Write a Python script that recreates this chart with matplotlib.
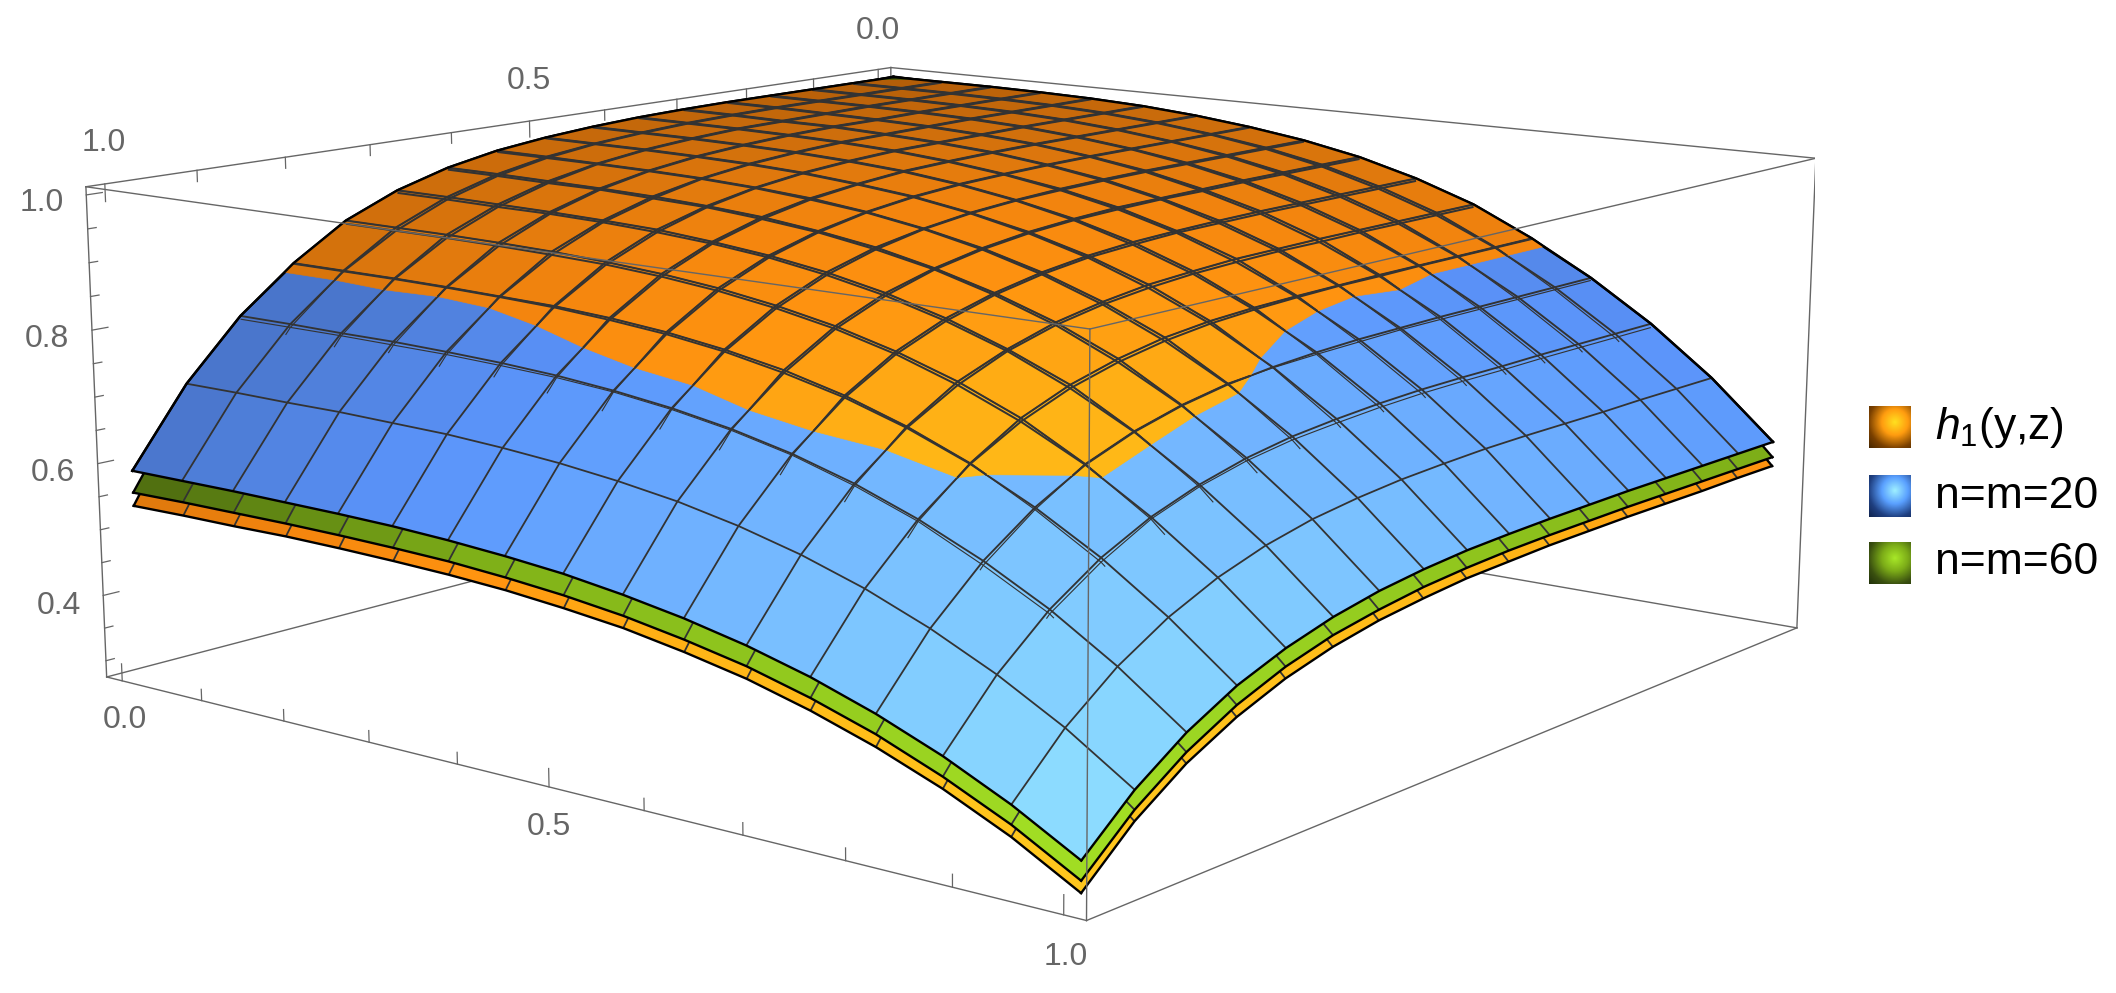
import numpy as np
import matplotlib
matplotlib.use("Agg")
import matplotlib.pyplot as plt
from matplotlib.colors import LinearSegmentedColormap
from mpl_toolkits.mplot3d.art3d import Poly3DCollection, Line3DCollection

plt.rcParams['font.family'] = ['Liberation Sans', 'DejaVu Sans']
plt.rcParams['mathtext.fontset'] = 'custom'
plt.rcParams['mathtext.it'] = 'Liberation Sans:italic'
plt.rcParams['mathtext.rm'] = 'Liberation Sans'

# heights, in thousandths, on the 17 x 17 mesh nodes
# rows: first axis 0 -> 1, columns: second axis 0 -> 1
mesh_nodes = np.linspace(0, 1, 17)

blue_h = np.array([
    [1000, 1000, 1000, 1000, 1000, 999, 997, 993, 987, 977, 961, 937, 902, 854, 789, 702, 588],
    [1000, 1000, 1000, 1000, 1000, 999, 997, 993, 987, 977, 961, 937, 902, 854, 789, 702, 588],
    [1000, 1000, 1000, 1000, 999, 998, 997, 993, 987, 977, 960, 936, 902, 854, 788, 701, 588],
    [999, 999, 999, 999, 998, 998, 996, 992, 986, 976, 960, 936, 901, 853, 788, 701, 587],
    [997, 997, 997, 997, 996, 995, 994, 990, 984, 974, 957, 934, 899, 851, 786, 699, 586],
    [993, 993, 993, 993, 992, 991, 990, 986, 980, 970, 954, 930, 896, 848, 783, 697, 584],
    [986, 986, 986, 986, 986, 985, 983, 980, 973, 963, 947, 924, 890, 842, 778, 692, 580],
    [976, 976, 976, 976, 976, 975, 973, 970, 964, 954, 938, 915, 881, 834, 770, 685, 574],
    [962, 962, 962, 962, 962, 961, 959, 956, 950, 940, 924, 901, 868, 822, 759, 675, 566],
    [943, 943, 943, 943, 942, 942, 940, 937, 931, 921, 906, 883, 851, 805, 744, 662, 554],
    [917, 917, 917, 917, 917, 916, 915, 911, 906, 896, 881, 859, 828, 784, 724, 644, 539],
    [885, 885, 885, 885, 884, 884, 882, 879, 873, 864, 850, 829, 798, 756, 698, 621, 520],
    [844, 844, 844, 844, 843, 843, 841, 838, 833, 824, 810, 790, 761, 721, 665, 592, 496],
    [793, 793, 793, 793, 793, 792, 791, 788, 783, 775, 762, 743, 716, 677, 625, 556, 466],
    [732, 732, 732, 732, 731, 731, 730, 727, 722, 715, 703, 685, 660, 625, 577, 513, 430],
    [659, 659, 659, 658, 658, 658, 657, 654, 650, 643, 633, 617, 594, 562, 519, 462, 387],
    [572, 572, 572, 572, 572, 571, 570, 568, 565, 559, 550, 536, 516, 489, 451, 401, 336],
]) / 1000

# h1 and n=m=60 sit very close to n=m=20, so they are kept as differences from it
orange_gap = np.array([
    [1, 1, 1, 1, 1, 1, 1, 1, 1, 2, 3, 4, 5, 1, -5, -27, -53],
    [1, 1, 1, 1, 1, 1, 1, 1, 1, 2, 3, 4, 5, 1, -5, -27, -52],
    [1, 1, 1, 1, 1, 1, 1, 1, 1, 1, 3, 4, 5, 1, -4, -26, -52],
    [1, 1, 1, 1, 1, 1, 1, 1, 1, 1, 2, 3, 5, 1, -5, -26, -50],
    [1, 1, 1, 1, 1, 1, 1, 1, 1, 1, 3, 3, 5, 1, -4, -25, -50],
    [1, 1, 1, 1, 1, 1, 1, 1, 1, 1, 2, 4, 4, 2, -4, -26, -50],
    [1, 1, 1, 1, 1, 1, 1, 1, 1, 2, 3, 3, 4, 3, -3, -25, -49],
    [1, 1, 1, 1, 1, 1, 1, 1, 1, 1, 2, 3, 4, 3, -2, -25, -48],
    [2, 2, 2, 2, 2, 2, 2, 1, 1, 1, 3, 4, 4, 3, -2, -24, -48],
    [3, 3, 3, 3, 3, 2, 3, 2, 2, 2, 2, 4, 4, 4, -2, -24, -46],
    [4, 4, 4, 4, 4, 4, 3, 4, 3, 3, 3, 4, 4, 3, -2, -24, -46],
    [4, 4, 4, 4, 5, 4, 5, 4, 5, 4, 4, 3, 5, 2, -3, -24, -45],
    [1, 1, 1, 1, 2, 1, 2, 3, 4, 5, 5, 5, 5, 1, -3, -23, -45],
    [-4, -4, -4, -4, -4, -3, -4, -3, -1, 1, 1, 1, 1, -3, -6, -22, -44],
    [-6, -6, -6, -6, -6, -6, -6, -6, -6, -5, -4, -3, -3, -6, -6, -22, -43],
    [-21, -21, -21, -20, -21, -21, -22, -21, -21, -21, -22, -22, -22, -22, -22, -22, -42],
    [-38, -38, -39, -39, -39, -39, -39, -40, -40, -41, -41, -41, -41, -42, -41, -41, -42],
]) / 1000

green_gap = np.array([
    [2, -1, -1, -1, -1, -1, -1, 0, 0, -1, -2, -2, -2, 0, -3, -17, -33],
    [-1, -1, -1, -1, -1, -1, -1, 0, 0, -1, -2, -2, -2, 0, -3, -17, -32],
    [-1, -1, -1, -1, 0, 0, -1, 0, -1, -1, -1, -2, -3, -1, -2, -16, -32],
    [-1, -1, -1, -1, -1, -1, -1, -1, -1, -1, -1, -2, -3, -1, -3, -16, -31],
    [-1, -1, -1, -1, -1, -1, -1, -1, -1, -1, -2, -2, -3, -1, -2, -16, -31],
    [-1, -1, -1, -1, -1, -1, -1, -1, -1, -1, -1, -2, -2, -1, -2, -16, -31],
    [-1, -1, -1, -1, -1, -1, -1, -1, -1, -1, -2, -2, -2, -2, -2, -16, -30],
    [-1, -1, -1, -1, -1, -1, -1, -1, -1, -1, -1, -2, -2, -2, -1, -16, -30],
    [-1, -1, -1, -1, -1, -1, -1, -1, -1, -1, -2, -2, -2, -2, -1, -15, -30],
    [-2, -2, -2, -2, -2, -1, -2, -1, -1, -1, -1, -2, -2, -2, -1, -15, -29],
    [-2, -2, -2, -2, -2, -2, -2, -2, -2, -2, -2, -2, -2, -2, -1, -15, -29],
    [-2, -2, -2, -2, -2, -2, -2, -2, -2, -2, -2, -2, -2, -1, -2, -15, -28],
    [-1, -1, -1, -1, 0, -1, -1, -1, -2, -2, -2, -2, -2, -1, -2, -14, -28],
    [-2, -2, -2, -2, -3, -2, -2, -2, -1, -1, -1, -1, -1, -1, -3, -14, -27],
    [-4, -4, -4, -4, -3, -4, -4, -4, -3, -3, -2, -2, -2, -4, -4, -14, -27],
    [-13, -13, -13, -13, -13, -13, -14, -13, -13, -13, -14, -14, -13, -13, -13, -14, -26],
    [-24, -24, -24, -24, -24, -24, -24, -24, -25, -25, -26, -25, -25, -26, -26, -26, -26],
]) / 1000

orange_h = blue_h + orange_gap
green_h = blue_h + green_gap

legend_labels = [r'$h_1$(y,z)', 'n=m=20', 'n=m=60']
tick_labels = ['1.0', '0.5', '0.0', '1.0', '0.8', '0.6', '0.4', '0.0', '0.5', '1.0']
tick_label_px = [(104, 143), (529, 81), (878, 31), (42, 203), (47, 339), (53, 473),
                 (59, 606), (125, 720), (549, 827), (1066, 957)]

gray = '#666666'
blue_cm = LinearSegmentedColormap.from_list('b', [(0, '#4470c4'), (.38, '#4a76cc'), (.55, '#5a92f8'),
                                                  (.62, '#5f9cfd'), (.76, '#72b5ff'), (1, '#8fe0ff')])
orange_cm = LinearSegmentedColormap.from_list('o', [(0, '#b05c08'), (.3, '#d2700c'), (.5, '#f5860e'),
                                                    (.62, '#ff9410'), (.76, '#ffb516'), (1, '#ffc81e')])
green_cm = LinearSegmentedColormap.from_list('g', [(0, '#3f5a0c'), (.38, '#4f6e10'), (.62, '#7fb018'),
                                                   (1, '#a4e024')])

fig = plt.figure(figsize=(21.16, 9.93), dpi=100)
side = 1736.06
ax = fig.add_axes([79.0 / 2116, -313.3 / 993, side / 2116, side / 993],
                  projection='3d', computed_zorder=False)
xl, xh = -.02, 1.02
zl, zh = .275, 1.012
ax.set_xlim(xl, xh)
ax.set_ylim(xl, xh)
ax.set_zlim(zl, zh)
ax.view_init(elev=11.6044, azim=38.6083)
ax.set_proj_type('persp', focal_length=.452)
ax.set_box_aspect((1.0015, 1 / 1.0015, .4026))
ax.set_axis_off()


def cell_color(cmap, i, j):
    a = (mesh_nodes[i] + mesh_nodes[i + 1]) / 2
    b = (mesh_nodes[j] + mesh_nodes[j + 1]) / 2
    return cmap(np.clip(.62 * a + .38 * b, 0, 1))


def cell_corners(h, i, j):
    return [np.array((mesh_nodes[j], mesh_nodes[i], h[i, j])),
            np.array((mesh_nodes[j + 1], mesh_nodes[i], h[i, j + 1])),
            np.array((mesh_nodes[j + 1], mesh_nodes[i + 1], h[i + 1, j + 1])),
            np.array((mesh_nodes[j], mesh_nodes[i + 1], h[i + 1, j]))]


# keep the part of a cell where d > 0
def clip_cell(pts, d):
    kept = []
    for k in range(len(pts)):
        a, b = pts[k], pts[(k + 1) % len(pts)]
        da, db = d[k], d[(k + 1) % len(pts)]
        if da > 0:
            kept.append(a)
        if (da > 0) != (db > 0):
            kept.append(a + da / (da - db) * (b - a))
    return kept


def surface(h, cmap, z, d=None):
    polys = []
    cols = []
    for i in range(16):
        for j in range(16):
            pts = cell_corners(h, i, j)
            if d is not None:
                pts = clip_cell(pts, [d[i, j], d[i, j + 1], d[i + 1, j + 1], d[i + 1, j]])
            if len(pts) >= 3:
                polys.append(pts)
                cols.append(cell_color(cmap, i, j))
    ax.add_collection3d(Poly3DCollection(polys, facecolors=cols, edgecolors=cols, linewidths=.4, zorder=z))


def mesh(h, z, d=None, scale=1.):
    segs = []
    widths = []
    for i in range(1, 16):
        for j in range(16):
            pairs = [((i, j), (i, j + 1), (mesh_nodes[j], mesh_nodes[i]), (mesh_nodes[j + 1], mesh_nodes[i])),
                     ((j, i), (j + 1, i), (mesh_nodes[i], mesh_nodes[j]), (mesh_nodes[i], mesh_nodes[j + 1]))]
            for n0, n1, p0, p1 in pairs:
                a = np.array((*p0, h[n0]))
                b = np.array((*p1, h[n1]))
                if d is not None:
                    da, db = d[n0], d[n1]
                    if da <= 0 and db <= 0:
                        continue
                    if da <= 0 or db <= 0:
                        mid = a + da / (da - db) * (b - a)
                        if da > 0:
                            b = mid
                        else:
                            a = mid
                segs.append([a, b])
                # lines get heavier towards the back, where the meshes pile up
                widths.append((.85 + .8 * (1 - .5 * max(a[0] ** 2, a[1] ** 2))) * scale)
    ax.add_collection3d(Line3DCollection(segs, colors='#333333', linewidths=widths, zorder=z))


def outline(h, z):
    ax.plot(mesh_nodes, np.ones(17), h[-1, :], color='k', lw=1.7, zorder=z)
    ax.plot(np.ones(17), mesh_nodes, h[:, -1], color='k', lw=1.7, zorder=z)
    ax.plot(mesh_nodes, np.zeros(17), h[0, :], color='k', lw=1.7, zorder=z)
    ax.plot(np.zeros(17), mesh_nodes, h[:, 0], color='k', lw=1.7, zorder=z)


def box(a, b, z, lw=1.0):
    ax.plot(*zip(a, b), color=gray, lw=lw, zorder=z)


# box edges behind the surfaces
box((xl, xl, zl), (xh, xl, zl), 1)
box((xl, xl, zl), (xl, xh, zl), 1)
box((xl, xl, zl), (xl, xl, zh), 1)
box((xl, xl, zh), (xh, xl, zh), 1)
box((xl, xl, zh), (xl, xh, zh), 1)
box((xh, xl, zl), (xh, xl, zh), 1)
box((xl, xh, zl), (xl, xh, zh), 1)
box((xh, xl, zl), (xh, xh, zl), 1)
box((xl, xh, zl), (xh, xh, zl), 1)

# lower surfaces first, only their rims stay visible under the blue one
surface(orange_h, orange_cm, 2)
mesh(orange_h, 2.1)
outline(orange_h, 2.2)
surface(green_h, green_cm, 3)
mesh(green_h, 3.1)
outline(green_h, 3.2)
surface(blue_h, blue_cm, 4)
mesh(blue_h, 4.1)
outline(blue_h, 4.2)

# where h1 rises above n=m=20
top_h = np.maximum(orange_h, blue_h)
surface(orange_h, orange_cm, 5, orange_h - blue_h)
mesh(orange_h, 5.1, orange_h - blue_h + .007, .6)
mesh(orange_h, 5.1, orange_h - blue_h)
mesh(blue_h, 5.1, orange_h - blue_h)
surface(green_h, green_cm, 5.2, green_h - top_h)
ax.plot(mesh_nodes, np.zeros(17), top_h[0, :], color='k', lw=1.7, zorder=5.3)
ax.plot(np.zeros(17), mesh_nodes, top_h[:, 0], color='k', lw=1.7, zorder=5.3)

# front edges run over the surfaces
box((xh, xh, zl), (xh, xh, zh), 6)
box((xh, xl, zh), (xh, xh, zh), 6)
box((xl, xh, zh), (xh, xh, zh), 6)

for v in np.arange(0, 1.01, .1):
    L = .026 if abs(v * 2 - round(v * 2)) < 1e-6 else .017
    box((xh, v, zl), (xh, v, zl + L), 6, .9)
    box((v, xl, zh), (v, xl, zh - L), 1, .9)
for v in np.arange(.3, 1.001, .05):
    L = .017 if abs(v * 5 - round(v * 5)) < 1e-6 else .009
    box((xh, xl, v), (xh - L, xl, v), 1, .9)

for label, (x, y) in zip(tick_labels, tick_label_px):
    fig.text(x / 2116, 1 - y / 993, label, fontsize=23, color=gray, ha='center', va='center')

# legend swatches with a small highlight, like the lit surface
legend_tops = [406, 475, 542]
legend_colors = [['#ffe020', '#ff9c10', '#7a4000', '#3a2000'],
                 ['#9ff0ff', '#5aa0ff', '#1f3f80', '#0c1c40'],
                 ['#a8e828', '#7cac18', '#3a5010', '#1a2808']]
yy, xx = np.mgrid[0:1:64j, 0:1:64j]
shade = np.hypot(xx - .62, yy - .38)
for label, top, cols in zip(legend_labels, legend_tops, legend_colors):
    cax = fig.add_axes([1869 / 2116, 1 - (top + 42) / 993, 42 / 2116, 42 / 993])
    cax.imshow(shade, cmap=LinearSegmentedColormap.from_list('s', cols), vmin=0, vmax=.95, aspect='auto')
    cax.axis('off')
    fig.text(1935 / 2116, 1 - (top + 21) / 993, label, fontsize=32, color='k', ha='left', va='center')

fig.savefig("out.png", dpi=100)
